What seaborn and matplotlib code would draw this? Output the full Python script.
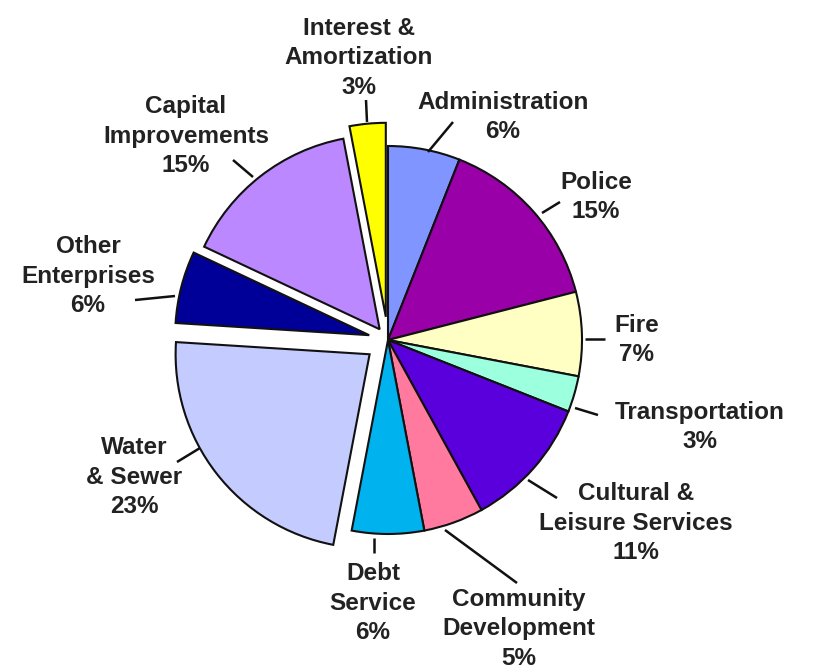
import matplotlib
matplotlib.use("Agg")
import matplotlib.pyplot as plt
import seaborn as sns

sns.set_theme(style="white")
plt.rcParams['font.family'] = ['Liberation Sans', 'DejaVu Sans']

# budget shares, clockwise from 12 o'clock
categories = ["Administration", "Police", "Fire", "Transportation",
              "Cultural & Leisure Services", "Community Development",
              "Debt Service", "Water & Sewer", "Other Enterprises",
              "Capital Improvements", "Interest & Amortization"]
shares = [6, 15, 7, 3, 11, 5, 6, 23, 6, 15, 3]
label_text = ["Administration\n6%", "Police\n15%", "Fire\n7%", "Transportation\n3%",
              "Cultural &\nLeisure Services\n11%", "Community\nDevelopment\n5%",
              "Debt\nService\n6%", "Water\n& Sewer\n23%", "Other\nEnterprises\n6%",
              "Capital\nImprovements\n15%", "Interest &\nAmortization\n3%"]

colors = ["#8095ff", "#9900a8", "#ffffc4", "#9cffdd", "#5a00dc", "#ff7a9e",
          "#00b2ee", "#c4ccff", "#000099", "#bb88ff", "#ffff00"]
explode_frac = [0, 0, 0, 0, 0, 0, 0, 0.12, 0.1, 0.07, 0.12]

W, H = 815, 668
CX, CY, R = 388, 340, 194

# label centres and leader lines, in image pixels (y down)
label_pos = [(503, 117), (596, 197), (637, 340), (700, 427), (636, 523),
             (519, 629), (373, 603), (134, 477), (88, 276), (186, 136), (359, 58)]
leaders = [((453, 122), (428, 152)), ((560, 202), (542, 213)), ((585, 339), (605, 339)),
           ((575, 408), (598, 415)), ((528, 480), (557, 498)), ((445, 530), (517, 583)),
           ((374, 538), (374, 553)), ((177, 462), (200, 448)), ((135, 300), (175, 296)),
           ((233, 160), (253, 177)), ((366, 100), (367, 122))]

fig = plt.figure(figsize=(W / 100, H / 100), dpi=100)
ax = fig.add_axes([0, 0, 1, 1])
# explode in matplotlib is in data units, so scale by the radius
ax.pie(shares, colors=colors, explode=[e * R for e in explode_frac],
       startangle=90, counterclock=False, radius=R, center=(CX, H - CY),
       wedgeprops=dict(edgecolor="#111111", linewidth=1.5))
ax.set_xlim(0, W)
ax.set_ylim(0, H)
ax.set_aspect("equal")
ax.axis("off")

for (p0, p1) in leaders:
    ax.plot([p0[0], p1[0]], [H - p0[1], H - p1[1]], color="#111111", lw=1.8,
            solid_capstyle="butt")

for txt, (x, y) in zip(label_text, label_pos):
    ax.text(x, H - y, txt, ha="center", va="center", multialignment="center",
            fontsize=17.5, fontweight="bold", color="#222222", linespacing=1.34)

fig.savefig("out.png", dpi=100)
